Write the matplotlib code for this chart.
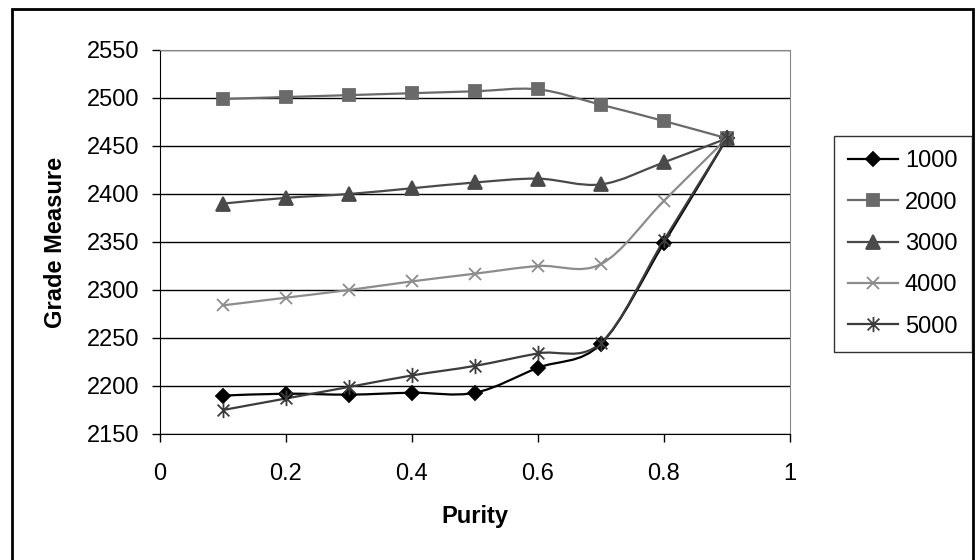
import matplotlib
matplotlib.use("Agg")
import matplotlib.pyplot as plt
from matplotlib.path import Path
from matplotlib.patches import PathPatch, Rectangle
from matplotlib.lines import Line2D

plt.rcParams["font.family"] = ["Liberation Sans", "DejaVu Sans"]

purity = [0.1, 0.2, 0.3, 0.4, 0.5, 0.6, 0.7, 0.8, 0.9]
s1000 = [2190, 2192, 2191, 2193, 2193, 2219, 2244, 2349, 2458]
s2000 = [2499, 2501, 2503, 2505, 2507, 2509, 2493, 2476, 2458]
s3000 = [2390, 2396, 2400, 2406, 2412, 2416, 2410, 2433, 2458]
s4000 = [2284, 2292, 2300, 2309, 2317, 2325, 2327, 2393, 2458]
s5000 = [2175, 2187, 2199, 2211, 2221, 2234, 2245, 2352, 2458]
series_names = ["1000", "2000", "3000", "4000", "5000"]
x_ticks = [0, 0.2, 0.4, 0.6, 0.8, 1]
x_tick_labels = ["0", "0.2", "0.4", "0.6", "0.8", "1"]
y_ticks = [2150, 2200, 2250, 2300, 2350, 2400, 2450, 2500, 2550]

# asterisk marker like excel's star
star = Path([(-1, -1), (1, 1), (-1, 1), (1, -1), (0, -1.3), (0, 1.3)],
            [Path.MOVETO, Path.LINETO, Path.MOVETO, Path.LINETO, Path.MOVETO, Path.LINETO])

styles = [
    dict(color="#000000", marker="D", ms=7, mfc="#000000"),
    dict(color="#6a6a6a", marker="s", ms=8.5, mfc="#6a6a6a"),
    dict(color="#4a4a4a", marker="^", ms=9.5, mfc="#4a4a4a"),
    dict(color="#8c8c8c", marker="x", ms=9, mfc="none"),
    dict(color="#3c3c3c", marker=star, ms=11, mfc="none"),
]


def smooth_path(xs, ys):
    # catmull-rom style bezier, like excel's smoothed line
    pts = list(zip(xs, ys))
    verts = [pts[0]]
    codes = [Path.MOVETO]
    n = len(pts)
    for i in range(n - 1):
        p0 = pts[i - 1] if i > 0 else pts[i]
        p1 = pts[i]
        p2 = pts[i + 1]
        p3 = pts[i + 2] if i + 2 < n else pts[i + 1]
        c1 = (p1[0] + (p2[0] - p0[0]) / 6, p1[1] + (p2[1] - p0[1]) / 6)
        c2 = (p2[0] - (p3[0] - p1[0]) / 6, p2[1] - (p3[1] - p1[1]) / 6)
        verts += [c1, c2, p2]
        codes += [Path.CURVE4] * 3
    return Path(verts, codes)


fig = plt.figure(figsize=(9.76, 5.6), dpi=100)
fig.patch.set_facecolor("white")
ax = fig.add_axes([160 / 976, 1 - 434 / 560, 630 / 976, 384 / 560])

# outer chart border
fig.patches.append(Rectangle((12 / 976, -0.05), 961 / 976, 1.05 - 9 / 560,
                             transform=fig.transFigure, fill=False, ec="black", lw=2))

handles = []
for ys, st, name in zip([s1000, s2000, s3000, s4000, s5000], styles, series_names):
    ax.add_patch(PathPatch(smooth_path(purity, ys), fill=False, ec=st["color"], lw=1.6, zorder=3))
    ax.plot(purity, ys, linestyle="none", marker=st["marker"], ms=st["ms"], color=st["color"],
            mfc=st["mfc"], mec=st["color"], mew=1.3, zorder=4)
    handles.append(Line2D([], [], color=st["color"], lw=1.6, marker=st["marker"], ms=st["ms"],
                          mfc=st["mfc"], mec=st["color"], mew=1.3, label=name))

ax.set_xlim(0, 1)
ax.set_ylim(2150, 2550)
ax.set_xticks(x_ticks)
ax.set_xticklabels(x_tick_labels)
ax.set_yticks(y_ticks)
ax.grid(axis="y", color="black", lw=1.0, zorder=1)
ax.set_axisbelow(True)
ax.tick_params(labelsize=17, length=6, width=1, direction="out", colors="black")
ax.tick_params(axis="y", pad=9)
ax.tick_params(axis="x", pad=15)
for side in ["top", "right"]:
    ax.spines[side].set_color("#888888")
for side in ["left", "bottom"]:
    ax.spines[side].set_color("black")

fig.text(475 / 976, 1 - 516 / 560, "Purity", ha="center", va="center", fontsize=17, fontweight="bold")
fig.text(56 / 976, 1 - 242 / 560, "Grade Measure", ha="center", va="center", rotation=90,
         fontsize=17, fontweight="bold")

leg = fig.legend(handles=handles, loc="upper left", bbox_to_anchor=(834 / 976, 1 - 136 / 560),
                 fontsize=17, frameon=True, fancybox=False, shadow=False, handlelength=2.1,
                 labelspacing=0.82, borderpad=0.6, handletextpad=0.3, borderaxespad=0)
leg.get_frame().set_edgecolor("black")
leg.get_frame().set_linewidth(1.0)

fig.savefig("out.png", dpi=100)
